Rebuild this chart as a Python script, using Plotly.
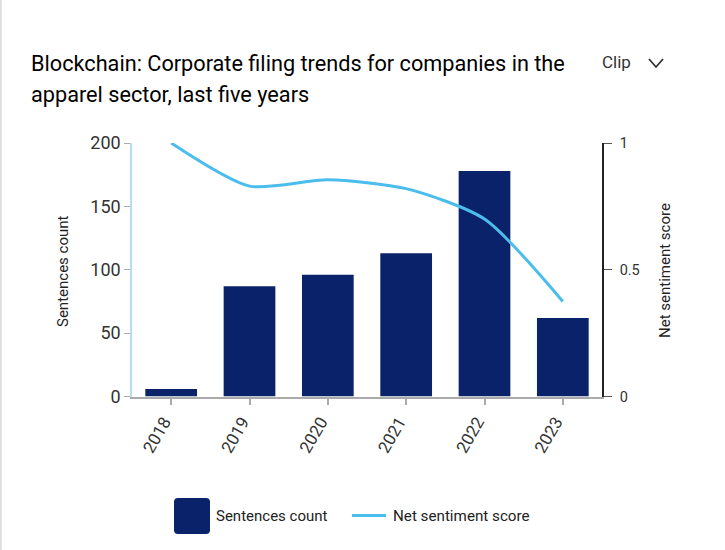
import plotly.graph_objects as go

years = ["2018", "2019", "2020", "2021", "2022", "2023"]
sentences_count = [6, 87, 96, 113, 178, 62]
net_sentiment = [1.0, 0.83, 0.855, 0.82, 0.70, 0.375]
left_ticks = [0, 50, 100, 150, 200]
right_ticks = [0, 0.5, 1]
right_tick_labels = ["0", "0.5", "1"]

W, H = 725, 550
L, R, T, B = 132, 602, 143, 396.5
FONT = "Roboto"
NAVY = "#0a2269"
SKY = "#4bbdec"
TXT = "#222222"


def px(x):
    return x / W


def py(y):
    return 1 - y / H


fig = go.Figure()
fig.add_trace(go.Bar(x=years, y=sentences_count, marker=dict(color=NAVY, line=dict(width=0)),
                     width=0.66, yaxis="y", showlegend=False))
fig.add_trace(go.Scatter(x=years, y=net_sentiment, mode="lines", yaxis="y2", showlegend=False,
                         line=dict(color=SKY, width=3, shape="spline", smoothing=0.7)))


def text(x, y, s, size, anchor="left", angle=0, color=TXT, weight=None):
    f = dict(family=FONT, size=size, color=color)
    if weight:
        f["weight"] = weight
    fig.add_annotation(x=px(x), y=py(y), xref="paper", yref="paper", text=s, showarrow=False,
                       xanchor=anchor, yanchor="middle", textangle=angle, font=f, borderpad=0)


text(30, 64, "Blockchain: Corporate filing trends for companies in the", 21.7, color="#000000")
text(30, 94, "apparel sector, last five years", 21.7, color="#000000")
text(601, 62, "Clip", 17, color="#333333")
text(215, 516, "Sentences count", 15)
text(392, 516, "Net sentiment score", 15.2)
text(63, 271, "Sentences count", 15, "center", -90)
text(665, 271, "Net sentiment score", 15, "center", -90)

swatch = (
    f"M {px(178)} {py(498)} L {px(206)} {py(498)} Q {px(210)} {py(498)} {px(210)} {py(502)} "
    f"L {px(210)} {py(530)} Q {px(210)} {py(534)} {px(206)} {py(534)} "
    f"L {px(178)} {py(534)} Q {px(174)} {py(534)} {px(174)} {py(530)} "
    f"L {px(174)} {py(502)} Q {px(174)} {py(498)} {px(178)} {py(498)} Z"
)
shapes = [
    dict(type="line", xref="paper", yref="paper", x0=0.001, x1=0.001, y0=0, y1=1,
         line=dict(color="#dddddd", width=2)),
    dict(type="path", xref="paper", yref="paper", line=dict(color="#333333", width=1.8),
         path=f"M {px(649)} {py(59)} L {px(656)} {py(67)} L {px(663)} {py(59)}"),
    dict(type="path", xref="paper", yref="paper", path=swatch, fillcolor=NAVY, line=dict(width=0)),
    dict(type="line", xref="paper", yref="paper", x0=px(352), x1=px(386), y0=py(515.5), y1=py(515.5),
         line=dict(color=SKY, width=3)),
]
fig.update_layout(
    width=W, height=H, autosize=False, paper_bgcolor="white", plot_bgcolor="white",
    margin=dict(l=0, r=0, t=0, b=0, autoexpand=False), shapes=shapes, bargap=0.34, showlegend=False,
    font=dict(family=FONT, color=TXT),
    xaxis=dict(domain=[px(L), px(R)], type="category", categoryorder="array", categoryarray=years,
               automargin=False, showgrid=False, zeroline=False, showline=True, linecolor="#aaaaaa",
               linewidth=1.5, anchor="y", ticks="outside", ticklen=7, tickcolor="#aaaaaa", tickwidth=1.5,
               tickangle=-60, ticklabelshift=-7, tickfont=dict(family=FONT, size=17, color="#333333")),
    yaxis=dict(domain=[py(B), py(T)], range=[0, 200], tickvals=left_ticks, showgrid=False,
               automargin=False, zeroline=False, showline=True, linecolor="#b5dff0", linewidth=1.5,
               ticks="outside", ticklen=6, tickcolor="#aaaaaa",
               tickfont=dict(family=FONT, size=18, color="#333333")),
    yaxis2=dict(domain=[py(B), py(T)], range=[0, 1], overlaying="y", side="right", anchor="x",
                automargin=False, tickvals=right_ticks, ticktext=right_tick_labels, showgrid=False,
                zeroline=False, showline=True, linecolor="#222222", linewidth=1.5, ticks="outside",
                ticklen=8, ticklabelstandoff=5, tickcolor="#555555",
                tickfont=dict(family=FONT, size=14.5, color="#333333")),
)
fig.write_html("out.html", config=dict(displayModeBar=False),
               post_script="document.body.style.margin='0';document.documentElement.style.overflow='hidden';")
